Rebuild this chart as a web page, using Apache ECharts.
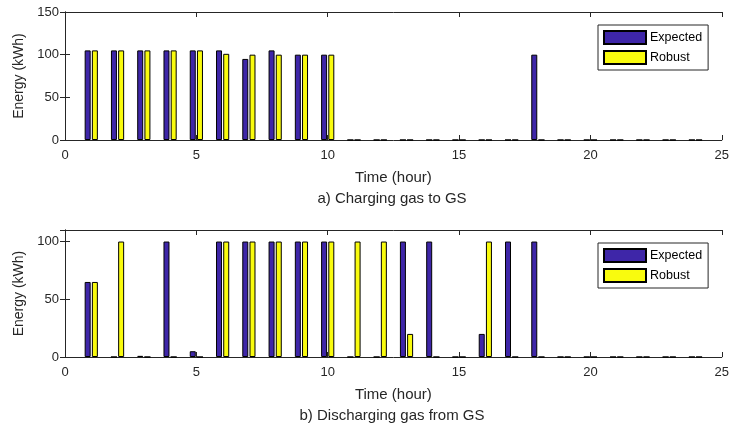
<!DOCTYPE html>
<html>
<head>
<meta charset="utf-8">
<script src="https://cdn.jsdelivr.net/npm/echarts@6/dist/echarts.min.js"></script>
<style>
  html, body { margin: 0; padding: 0; background: #fff; }
  #main { width: 732px; height: 429px; }
</style>
</head>
<body>
<div id="main"></div>
<script>
// hours 1..24
const hours = [1,2,3,4,5,6,7,8,9,10,11,12,13,14,15,16,17,18,19,20,21,22,23,24];
// a) Charging gas to GS
const chargeExpected = [105,105,105,105,105,105,95,105,100,100,0,0,0,0,0,0,0,100,0,0,0,0,0,0];
const chargeRobust   = [105,105,105,105,105,101,100,100,100,100,0,0,0,0,0,0,0,0,0,0,0,0,0,0];
// b) Discharging gas from GS
const dischargeExpected = [65,0,1,100,5,100,100,100,100,100,0,0,100,100,0,20,100,100,0,0,0,0,0,0];
const dischargeRobust   = [65,100,0,0,0,100,100,100,100,100,100,100,20,0,0,100,0,0,0,0,0,0,0,0];
const xTicks = [0, 5, 10, 15, 20, 25];
const seriesNames = ['Expected', 'Robust'];

const blue = '#3e26a8';
const yellow = '#f9fb0e';
const ink = '#262626';
const font = 'Liberation Sans, Arial, sans-serif';

function pairs(vals) {
  return hours.map((h, i) => [h, vals[i]]);
}

let chart = echarts.init(document.getElementById('main'));

function xAx(gridIndex, pos, show) {
  return {
    type: 'value', gridIndex: gridIndex, position: pos,
    min: xTicks[0], max: xTicks[xTicks.length - 1], interval: 5,
    name: show ? 'Time (hour)' : '', nameLocation: 'middle', nameGap: 30,
    nameTextStyle: { color: ink, fontSize: 15, fontFamily: font },
    axisLine: { show: true, onZero: false, lineStyle: { color: ink, width: 1 } },
    axisTick: { show: true, inside: true, length: 5, lineStyle: { color: ink } },
    axisLabel: { show: show, color: ink, fontSize: 13, fontFamily: font, margin: 9 },
    splitLine: { show: false }
  };
}

function yAx(gridIndex, pos, show, max) {
  return {
    type: 'value', gridIndex: gridIndex, position: pos,
    min: 0, max: max, interval: 50,
    name: show ? 'Energy (kWh)' : '', nameLocation: 'middle', nameGap: 36,
    nameTextStyle: { color: ink, fontSize: 14, fontFamily: font },
    axisLine: { show: true, lineStyle: { color: ink, width: 1 } },
    axisTick: { show: true, inside: true, length: 5, lineStyle: { color: ink } },
    axisLabel: {
      show: show, color: ink, fontSize: 13, fontFamily: font, margin: 6,
      formatter: v => (v % 50 === 0 ? String(v) : '')
    },
    splitLine: { show: false }
  };
}

function barSeries(name, color, data, xi, yi) {
  return {
    name: name, type: 'bar', xAxisIndex: xi, yAxisIndex: yi,
    data: pairs(data), barWidth: 6, barGap: '20%',
    itemStyle: { color: color, borderColor: '#000', borderWidth: 1 },
    emphasis: { disabled: true }
  };
}

function legendAt(top) {
  return {
    data: seriesNames, orient: 'vertical', left: 598, top: top,
    itemWidth: 42, itemHeight: 13, itemGap: 5,
    padding: [5, 6, 5, 5],
    borderColor: ink, borderWidth: 1, backgroundColor: '#fff',
    icon: 'rect',
    textStyle: { color: '#000', fontSize: 12.5, fontFamily: font, padding: [0, 0, 0, -1] },
    selectedMode: false
  };
}

let option = {
  animation: false,
  backgroundColor: '#fff',
  grid: [
    { left: 65, top: 12, width: 657, height: 128 },
    { left: 65, top: 230, width: 657, height: 127 }
  ],
  xAxis: [
    xAx(0, 'bottom', true), xAx(0, 'top', false),
    xAx(1, 'bottom', true), xAx(1, 'top', false)
  ],
  yAxis: [
    yAx(0, 'left', true, 150), yAx(0, 'right', false, 150),
    yAx(1, 'left', true, 110), yAx(1, 'right', false, 110)
  ],
  legend: [legendAt(25), legendAt(243)],
  graphic: [
    { type: 'text', x: 392, y: 199, style: { text: 'a) Charging gas to GS', fill: ink, font: '15px ' + font, textAlign: 'center', textVerticalAlign: 'middle' } },
    { type: 'text', x: 392, y: 416, style: { text: 'b) Discharging gas from GS', fill: ink, font: '15px ' + font, textAlign: 'center', textVerticalAlign: 'middle' } }
  ],
  series: [
    barSeries('Expected', blue, chargeExpected, 0, 0),
    barSeries('Robust', yellow, chargeRobust, 0, 0),
    barSeries('Expected', blue, dischargeExpected, 2, 2),
    barSeries('Robust', yellow, dischargeRobust, 2, 2)
  ]
};

chart.setOption(option);
</script>
</body>
</html>
